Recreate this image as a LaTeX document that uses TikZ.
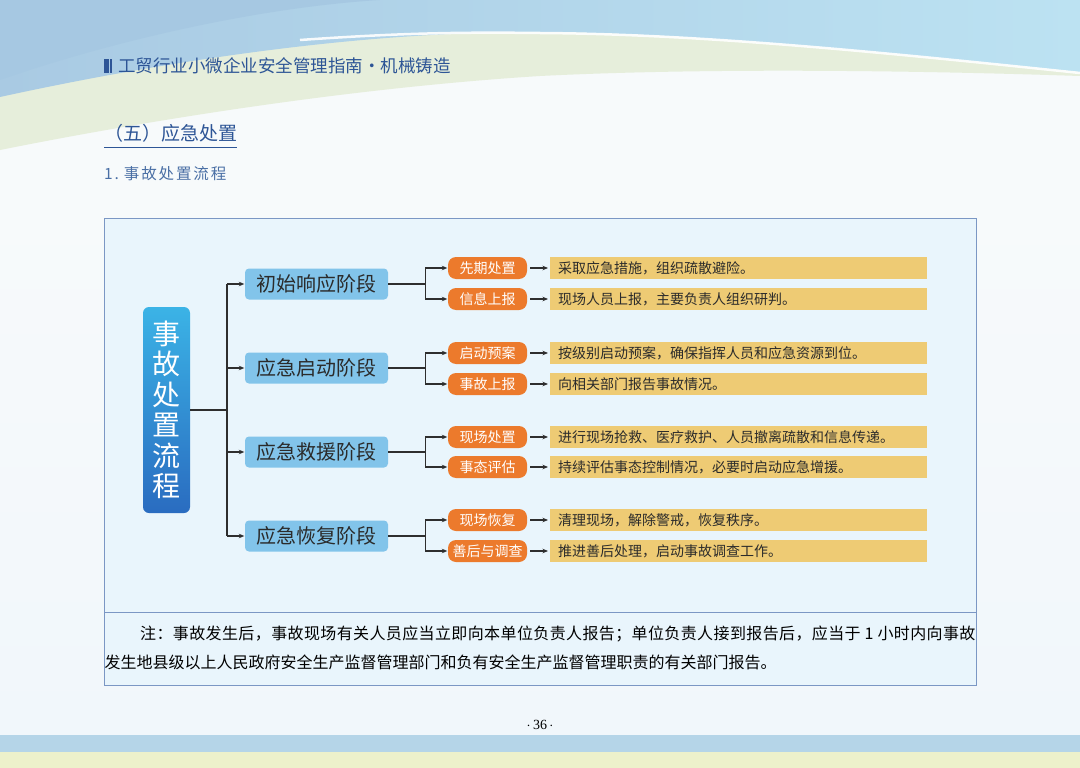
\documentclass[tikz,border=0pt]{standalone}
\usepackage{fontspec}
\setmainfont{Noto Sans CJK SC}
\newfontfamily\cjk{Noto Sans CJK SC}
\newfontfamily\cjkls[LetterSpace=2.4]{Noto Sans CJK SC}
\newfontfamily\cjkhd[LetterSpace=12]{Noto Sans CJK SC}
\newfontfamily\pgserif{Liberation Serif}
\usetikzlibrary{arrows.meta}
\newcommand\myfs[1]{\fontsize{#1}{#1}\selectfont}
\definecolor{pagebg}{HTML}{F7FAFB}
\definecolor{pagebgB}{HTML}{F1F7FB}
\definecolor{hdblueA}{HTML}{A9CAE3}
\definecolor{hdblueB}{HTML}{BCE2F2}
\definecolor{hdblueC}{HTML}{A6C8E2}
\definecolor{hdgreen}{HTML}{E6EEDB}
\definecolor{titleblue}{HTML}{2D5596}
\definecolor{subblue}{HTML}{4A6FA5}
\definecolor{framebg}{HTML}{E9F5FC}
\definecolor{framedraw}{HTML}{7B97C4}
\definecolor{stageblue}{HTML}{82C4EA}
\definecolor{orng}{HTML}{EC7A2C}
\definecolor{ylw}{HTML}{EECB74}
\definecolor{lbtop}{HTML}{3BB3E6}
\definecolor{lbbot}{HTML}{2A6CC0}
\definecolor{linec}{HTML}{2E2E2E}
\definecolor{txtd}{HTML}{2B2B2B}
\definecolor{botblue}{HTML}{B5D5E8}
\definecolor{botyel}{HTML}{EDF1CB}
\tikzset{
  stage/.style={rounded corners=4pt, fill=stageblue, minimum width=143pt, minimum height=31pt,
    inner sep=0pt, text=txtd, font=\cjk\myfs{20}},
  subbox/.style={rounded corners=8pt, fill=orng, minimum width=79pt, minimum height=22pt,
    inner sep=0pt, text=white, font=\cjk\myfs{14}},
  desc/.style={fill=ylw, anchor=west, text width=361pt, inner xsep=8pt, inner ysep=0pt,
    minimum height=22pt, align=left, text=txtd, font=\cjk\myfs{14}},
  conn/.style={draw=linec, line width=1.3pt},
  arr/.style={conn, -{Stealth[length=5.5pt,width=4.5pt]}},
}
\begin{document}
\begin{tikzpicture}[x=1pt,y=-1pt]
\useasboundingbox (0,0) rectangle (1080,768);
% page background
\fill[pagebg] (0,0) rectangle (1080,768);
\shade[top color=pagebg, bottom color=pagebgB] (0,200) rectangle (1080,735);
% header waves
\fill[hdgreen] (0,0) -- (1080,0) -- (1080,76) .. controls (900,70) and (700,68) .. (540,76) .. controls (350,88) and (150,120) .. (0,150) -- cycle;
\shade[left color=hdblueA, right color=hdblueB]
  (0,0) -- (1080,0) -- (1080,72) .. controls (880,52) and (700,33) .. (540,32)
  .. controls (360,31) and (160,62) .. (0,97) -- cycle;
\fill[hdblueC] (0,0) -- (380,0) .. controls (250,8) and (100,45) .. (0,80) -- cycle;
\draw[white, line width=2.5pt, opacity=0.9] (300,40) .. controls (400,33) and (460,32) .. (540,33)
  .. controls (700,34) and (880,52) .. (1080,73);
% bottom bands
\fill[botblue] (0,735) rectangle (1080,752);
\fill[botyel] (0,752) rectangle (1080,768);
% header text
\fill[titleblue] (104,59) rectangle (108.5,73);
\fill[titleblue] (109.8,59) rectangle (112.3,73);
\node[anchor=west, inner sep=0pt, text=titleblue, font=\cjk\myfs{17.5}] (hdr) at (118,66)
  {工贸行业小微企业安全管理指南·机械铸造};
\node[anchor=west, inner sep=0pt, text=titleblue, font=\cjk\myfs{19}] (sec) at (104,133)
  {（五）应急处置};
\draw[titleblue, line width=1.5pt] (sec.south west |- 0,147.5) -- (sec.south east |- 0,147.5);
\node[anchor=west, inner sep=0pt, text=subblue, font=\cjkhd\myfs{15.5}] (sub) at (104,174)
  {1.\hspace{5pt}事故处置流程};
% frame
\fill[framebg] (104,218) rectangle (976,685);
\draw[framedraw, line width=1pt] (104,218) rectangle (976,685);
\draw[framedraw, line width=1pt] (104,612) -- (976,612);
% left box
\node[rounded corners=6pt, top color=lbtop, bottom color=lbbot, minimum width=47pt,
  minimum height=206pt, inner sep=0pt, text=white, align=center,
  font=\cjk\fontsize{28}{30.5}\selectfont] (lb) at (166.5,410)
  {事\\故\\处\\置\\流\\程};
% stages
\node[stage] (s1) at (316.5,284) {初始响应阶段};
\node[stage] (s2) at (316.5,368) {应急启动阶段};
\node[stage] (s3) at (316.5,452) {应急救援阶段};
\node[stage] (s4) at (316.5,536) {应急恢复阶段};
% sub boxes
\node[subbox] (o11) at (487.5,268) {先期处置};
\node[subbox] (o12) at (487.5,299) {信息上报};
\node[subbox] (o21) at (487.5,353) {启动预案};
\node[subbox] (o22) at (487.5,384) {事故上报};
\node[subbox] (o31) at (487.5,437) {现场处置};
\node[subbox] (o32) at (487.5,467) {事态评估};
\node[subbox] (o41) at (487.5,520) {现场恢复};
\node[subbox] (o42) at (487.5,551) {善后与调查};
% descriptions
\node[desc] (d11) at (550,268) {采取应急措施，组织疏散避险。};
\node[desc] (d12) at (550,299) {现场人员上报，主要负责人组织研判。};
\node[desc] (d21) at (550,353) {按级别启动预案，确保指挥人员和应急资源到位。};
\node[desc] (d22) at (550,384) {向相关部门报告事故情况。};
\node[desc] (d31) at (550,437) {进行现场抢救、医疗救护、人员撤离疏散和信息传递。};
\node[desc] (d32) at (550,467) {持续评估事态控制情况，必要时启动应急增援。};
\node[desc] (d41) at (550,520) {清理现场，解除警戒，恢复秩序。};
\node[desc] (d42) at (550,551) {推进善后处理，启动事故调查工作。};
% trunk
\coordinate (tk) at (227,410);
\draw[conn] (lb.east) -- (tk);
\draw[conn] (s1.west -| tk) -- (s4.west -| tk);
\foreach \s in {s1,s2,s3,s4}{
  \draw[arr, shorten >=0.5pt] (\s.west -| tk) -- (\s.west);
}
% junctions
\foreach \s/\a/\b in {s1/o11/o12, s2/o21/o22, s3/o31/o32, s4/o41/o42}{
  \coordinate (j\s) at ([xshift=37pt]\s.east);
  \draw[conn] (\s.east) -- (j\s);
  \draw[conn] (j\s |- \a.west) -- (j\s |- \b.west);
  \draw[arr, shorten >=0.5pt] (j\s |- \a.west) -- (\a.west);
  \draw[arr, shorten >=0.5pt] (j\s |- \b.west) -- (\b.west);
}
% sub to desc arrows
\foreach \a/\d in {o11/d11,o12/d12,o21/d21,o22/d22,o31/d31,o32/d32,o41/d41,o42/d42}{
  \draw[arr, shorten >=2pt] ([xshift=3pt]\a.east) -- (\d.west);
}
% note
\node[anchor=west, inner sep=0pt, text=black, font=\cjkls\myfs{16}] (n1) at (140,634)
  {注：事故发生后，事故现场有关人员应当立即向本单位负责人报告；单位负责人接到报告后，应当于 1 小时内向事故};
\node[anchor=west, inner sep=0pt, text=black, font=\cjk\myfs{16}] (n2) at (104.5,662)
  {发生地县级以上人民政府安全生产监督管理部门和负有安全生产监督管理职责的有关部门报告。};
% page number
\node[inner sep=0pt, text=black, font=\pgserif\myfs{14}] (pg) at (540,725) {$\cdot$\,36\,$\cdot$};
\end{tikzpicture}
\end{document}
